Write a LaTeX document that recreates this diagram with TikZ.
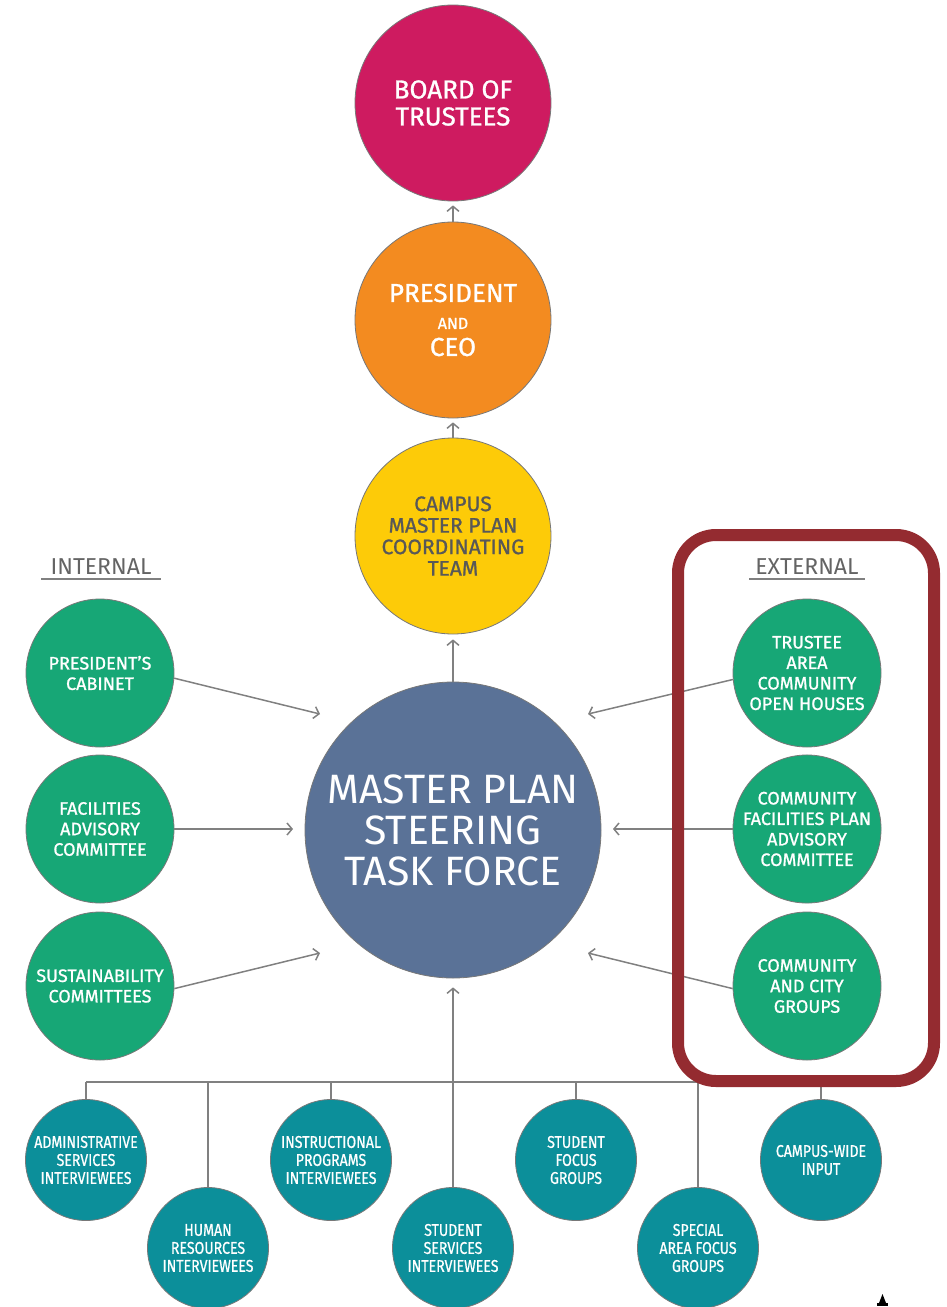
\documentclass[tikz,border=0pt]{standalone}
\usepackage{fontspec}
\setmainfont{Fira Sans}
\newfontfamily\medfont{Fira Sans}[FakeBold=1.0]
\newfontfamily\condfont{Fira Sans}[FakeStretch=0.83,FakeBold=0.8]
\usetikzlibrary{arrows.meta,calc}
\definecolor{boardc}{RGB}{206,27,96}
\definecolor{presc}{RGB}{243,139,32}
\definecolor{campc}{RGB}{253,203,8}
\definecolor{campt}{RGB}{88,88,88}
\definecolor{mainc}{RGB}{90,114,151}
\definecolor{greenc}{RGB}{23,167,118}
\definecolor{tealc}{RGB}{12,143,154}
\definecolor{redbox}{RGB}{148,43,48}
\definecolor{linec}{RGB}{128,128,128}
\definecolor{ringc}{RGB}{120,120,120}
\definecolor{lblc}{RGB}{100,100,100}
\begin{document}
\begin{tikzpicture}[x=1pt,y=-1pt,
  bub/.style={circle, draw=ringc, line width=0.8pt, inner sep=0pt, align=center, text=white},
  topbub/.style={bub, minimum size=196pt, font=\medfont\fontsize{26}{27}\selectfont},
  mainbub/.style={bub, fill=mainc, minimum size=296pt, font=\fontsize{41}{41}\selectfont},
  grnbub/.style={bub, fill=greenc, minimum size=148pt, font=\medfont\fontsize{18}{20.5}\selectfont},
  tealbub/.style={bub, fill=tealc, minimum size=121pt, font=\condfont\fontsize{17}{18}\selectfont},
  lbl/.style={text=lblc, font=\fontsize{23}{23}\selectfont, inner sep=0pt},
  ul/.style={draw=linec, line width=2pt},
  conn/.style={draw=linec, line width=1.5pt},
  arr/.style={conn, -{Straight Barb[length=5pt,width=12pt,line width=1.5pt]}}
]
\useasboundingbox (0,0) rectangle (946,1307);

% top chain
\node[topbub, fill=boardc] (board) at (453,103) {BOARD OF\\TRUSTEES};
\node[topbub, fill=presc] (pres) at (453,320) {PRESIDENT\\{\fontsize{16}{16}\selectfont AND}\\CEO};
\node[topbub, fill=campc, text=campt, font=\medfont\fontsize{21}{21.5}\selectfont] (camp) at (453,536)
  {CAMPUS\\MASTER PLAN\\COORDINATING\\TEAM};
\node[mainbub] (main) at (453,830) {MASTER PLAN\\STEERING\\TASK FORCE};

\draw[arr, shorten >=4pt] (pres) -- (board);
\draw[arr, shorten >=4pt] (camp) -- (pres);
\draw[arr, shorten >=5pt] (main) -- (camp);

% labels
\node[lbl] (intl) at (101,567) {INTERNAL};
\draw[ul] ($(intl.base west)+(-9,4)$) -- ($(intl.base east)+(9,4)$);
\node[lbl] (extl) at (807,567) {EXTERNAL};
\draw[ul] ($(extl.base west)+(-6,4)$) -- ($(extl.base east)+(6,4)$);

% internal
\node[grnbub] (pc) at (100,673) {PRESIDENT’S\\CABINET};
\node[grnbub] (fa) at (100,829) {FACILITIES\\ADVISORY\\COMMITTEE};
\node[grnbub] (su) at (100,986) {SUSTAINABILITY\\COMMITTEES};
% external
\node[grnbub] (ta) at (807,673) {TRUSTEE\\AREA\\COMMUNITY\\OPEN HOUSES};
\node[grnbub] (cf) at (807,829) {COMMUNITY\\FACILITIES PLAN\\ADVISORY\\COMMITTEE};
\node[grnbub] (cc) at (807,986) {COMMUNITY\\AND CITY\\GROUPS};

\coordinate (tpc) at (320,714);
\coordinate (tfa) at (293,829);
\coordinate (tsu) at (320,953);
\coordinate (tta) at (588,714);
\coordinate (tcf) at (613,829);
\coordinate (tcc) at (588,953);
\draw[arr] (pc.-4) -- (tpc);
\draw[arr] (fa.east) -- (tfa);
\draw[arr] (su.-2) -- (tsu);
\draw[arr] (ta.185) -- (tta);
\draw[arr] (cf.west) -- (tcf);
\draw[arr] (cc.182) -- (tcc);

% bottom row
\node[tealbub] (adm) at (86,1160) {ADMINISTRATIVE\\SERVICES\\INTERVIEWEES};
\node[tealbub] (hr) at (208,1248) {HUMAN\\RESOURCES\\INTERVIEWEES};
\node[tealbub] (ins) at (331,1160) {INSTRUCTIONAL\\PROGRAMS\\INTERVIEWEES};
\node[tealbub] (ss) at (453,1248) {STUDENT\\SERVICES\\INTERVIEWEES};
\node[tealbub] (sf) at (576,1160) {STUDENT\\FOCUS\\GROUPS};
\node[tealbub] (sa) at (698,1248) {SPECIAL\\AREA FOCUS\\GROUPS};
\node[tealbub] (cw) at (821,1160) {CAMPUS-WIDE\\INPUT};

\coordinate (bus) at (453,1082);
\draw[conn] (adm.north |- bus) -- (cw.north |- bus);
\foreach \n in {adm,hr,ins,sf,sa,cw} {
  \draw[conn] (\n.north) -- (\n.north |- bus);
}
\draw[arr, shorten >=9pt] (ss.north) -- (main.south);

% red highlight box
\draw[draw=redbox, line width=12pt, rounded corners=38pt] (678,535) rectangle (934,1081);

% small logo
\fill[black] (877,1303) rectangle (888,1306);
\fill[black] (879,1303) -- (882.5,1294) -- (886,1303) -- cycle;
\end{tikzpicture}
\end{document}
